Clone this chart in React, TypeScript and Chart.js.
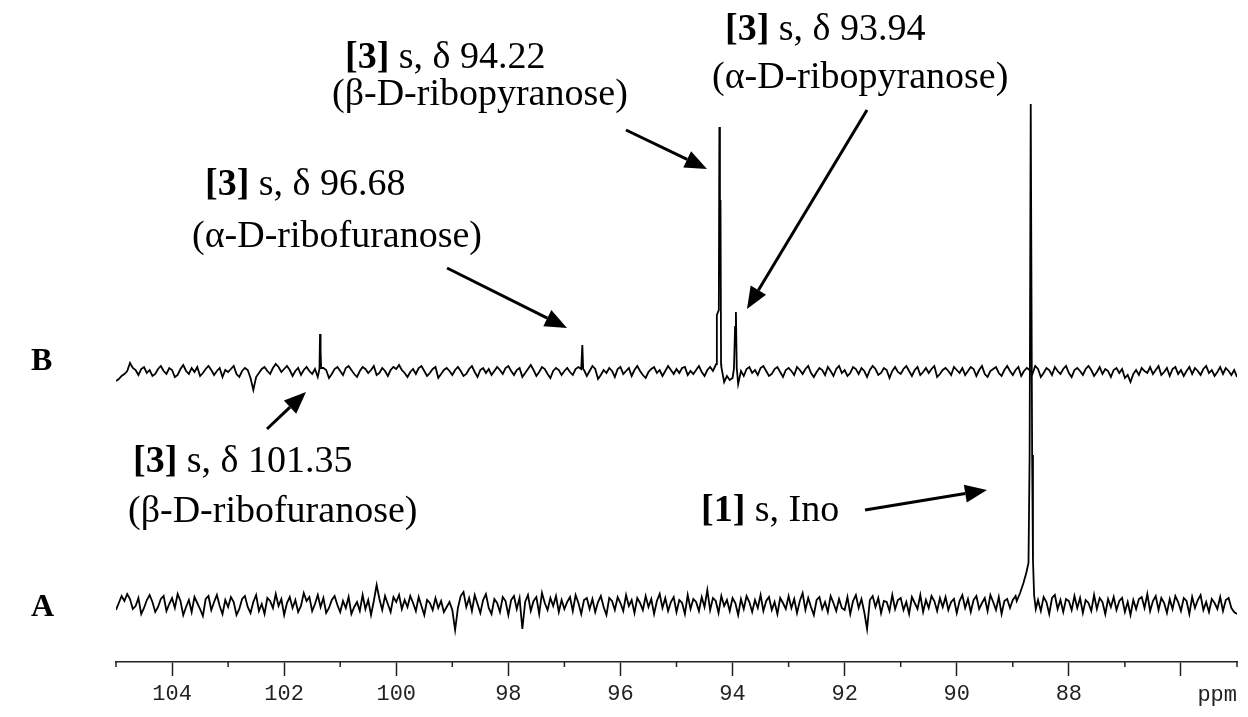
import React, { useEffect, useRef } from "react";
import { Chart, registerables } from "chart.js";

Chart.register(...registerables);

// ---- axis ----
const PPM_START = 105;
const PPM_STEP = 0.05;
const AXIS_MIN = 85;
const AXIS_MAX = 105;
const MAJOR_TICKS = [86, 88, 90, 92, 94, 96, 98, 100, 102, 104];
const TICK_LABELS = ["", "88", "90", "92", "94", "96", "98", "100", "102", "104"];
const MINOR_TICKS = [85, 87, 89, 91, 93, 95, 97, 99, 101, 103, 105];
const UNIT_LABEL = "ppm";

// ---- trace B (baseline noise, sampled every 0.05 ppm from 105 ppm) ----
const NOISE_B = [
  -9, -7, -4, -2, 1, 9, 4, 2, -3, 3, 5, -1, 2, -4, -2, 3, 6, 1, -2, 4,
  2, -5, -3, 3, 7, 1, -2, 4, 0, 5, -4, -1, 3, 6, 2, -3, 1, 4, -5, 2,
  0, 3, 6, -2, -5, 1, 4, 2, -6, -18, -5, -1, 3, 5, 1, -2, 4, 8, 5, 0,
  3, 6, 2, -4, 1, 4, -3, 2, 5, 1, -2, 3, -5, 0, 4, 2, -6, -2, 3, 5,
  1, -3, 4, 6, 2, -2, -5, 1, 5, 3, -1, 2, 6, -3, -1, 4, 1, -4, 2, 5,
  3, 7, 2, -1, -5, 0, 3, -2, 4, 6, 1, -4, -1, 3, 5, -6, -2, 2, 4, 1,
  -3, 2, 5, 1, -4, -2, 3, 6, 0, -5, 2, 4, -1, 3, -3, 1, 5, 2, -2, 4,
  6, 1, -3, 2, 4, -5, -1, 3, 7, 2, -4, 0, 5, 3, -2, -6, 1, 4, 2, -3,
  1, 4, 0, -3, 3, 5, -2, 2, -4, 1, 6, 3, -7, -3, 2, -1, 4, 1, -5, 3,
  5, -2, 1, 4, -4, 2, 6, 1, -3, -6, 0, 3, 5, -1, 2, -4, 1, 6, 2, -2,
  3, -1, 4, 5, -3, 1, -2, 2, 6, 0, -4, 2, 5, 1, 7, 8, 5, -10, -4, -8,
  -6, -3, -12, 1, -4, 3, 5, -1, 2, -3, 4, 6, 1, -4, -2, 3, 5, 0, -5, 2,
  4, 1, -3, 5, 2, -2, 3, 6, -1, -5, 0, 4, 2, -3, 5, 1, -4, 3, 6, -1,
  2, -4, -1, 5, 3, -2, 4, 1, -5, 2, 6, 3, -3, -1, 4, 2, -6, 1, 5, 0,
  -2, 3, 6, 1, -4, 2, 5, -3, 0, 4, -1, 3, 6, -5, -2, 2, 4, 1, -3, 5,
  2, -1, 4, -3, 1, 5, 3, -4, 2, 6, -2, -5, 1, 3, 5, -1, -4, 2, 6, 1,
  -3, 2, 5, -4, 1, 4, 2, -2, 6, 3, -5, -1, 4, 2, -3, 5, 1, -2, 3, 6,
  -1, -5, 2, 4, 1, -3, 3, 6, 2, -4, 0, 5, -2, 3, 1, -5, 2, 4, -1, 3,
  -6, -3, -10, -2, 2, -3, 4, 1, -1, 5, -2, 2, 6, -3, 0, 4, -4, 3, 5, -2,
  2, -4, 1, 5, -2, 4, 1, -3, 3, 6, -1, 2, -4, 0, 5, -2, 4, 1, -3, 2,
  -5,
];

// ---- trace B peaks [ppm, intensity] ----
const PEAK_B_10135 = [[101.37, 3], [101.36, 38], [101.35, 22], [101.34, 4]];
const PEAK_B_9668 = [[96.70, 3], [96.68, 27], [96.665, 3]];
const PEAK_B_9422 = [[94.29, 8], [94.28, 57], [94.245, 62], [94.235, 245], [94.225, 120], [94.215, 172], [94.205, 8]];
const PEAK_B_9394 = [[93.975, 3], [93.955, 45], [93.94, 60], [93.925, 4]];

// ---- trace A (baseline noise, sampled every 0.05 ppm from 105 ppm) ----
const NOISE_A = [
  -5, 2, 9, 4, 11, 6, -4, -1, 7, -9, -3, 5, 10, 3, -7, -2, 6, 9, -6, 1,
  7, -3, 11, 4, -10, -2, 5, -7, 8, 2, -4, -11, 6, 9, -5, 3, 10, -1, -9, 5,
  -2, 8, 3, -10, -4, 6, 9, -2, -8, 3, 10, -6, 1, -9, 7, 4, -3, 11, -1, 6,
  -10, 2, 8, -3, 5, -7, -1, 12, 4, 8, -6, 1, 10, -2, 7, -8, -3, 5, 9, 0,
  -7, 4, -3, 8, -9, -2, 3, -6, 10, -4, 5, -10, 4, 20, 6, -5, 9, 1, -7, 8,
  3, 10, -4, 5, -2, 9, 2, -6, 8, -1, -10, 5, 2, -5, 7, -3, 4, -7, -2, 3,
  -5, -25, -3, 9, 13, -2, 7, -6, 10, 1, -8, 5, 11, -3, -9, 6, 2, -7, 8, 4,
  -10, 5, 9, -4, 7, -24, 3, 10, -6, 4, 8, -9, 12, 2, -5, 7, -1, 9, -7, 5,
  -4, 3, 8, -6, 10, 2, -9, 5, 7, -4, 6, -7, 3, 9, -2, -10, 7, 4, -5, 8,
  2, -6, 10, -1, 5, -8, 7, 2, -5, 9, -2, 6, -9, 4, 11, -3, 7, -6, 3, 8,
  -7, 5, 2, -9, 10, -4, 6, 3, -6, 8, -2, 15, -5, 7, 4, -8, 9, -1, 5, -6,
  7, 2, -10, 6, -4, 9, 3, -7, 5, -3, 10, -6, 4, 8, -5, 3, -9, 7, 2, -4,
  9, -3, 6, -8, 4, 12, -5, 7, -2, -10, 5, 8, -4, 3, -7, 9, 2, -6, 6, -3,
  -5, 8, -9, 4, 10, -3, 6, -7, -24, 5, 9, -2, 7, -8, 4, 3, -6, 10, -4, 5,
  7, -5, 3, -9, 8, 2, -4, 10, -7, 5, -3, 9, 4, -6, 7, -2, 8, -5, 3, 6,
  -8, 4, 10, -3, 6, -7, 5, 9, -4, 2, 7, -6, 10, 3, -5, 8, -9, 4, 6, -3,
  5, 9, 10, 14, 20, 30, 12, 6, -6, 5, -6, 8, 3, -9, 7, 10, -4, 5, -7, 6,
  4, -5, 9, -3, 7, -8, 5, 2, -6, 10, -4, 7, 3, -9, 6, -2, 8, -5, 4, 7,
  -7, 3, -10, 5, -4, 6, 8, -3, 11, -6, 4, 9, -5, 7, 2, -8, 6, -4, 9, 3,
  -6, 7, 4, -9, 8, -3, 5, 10, -5, 3, -7, 6, 2, -4, 8, -6, 5, 7, -3, -7,
  -9,
];

// ---- trace A peak [ppm, intensity] ----
const PEAK_A_8868 = [
  [88.93, 4], [88.87, 12], [88.81, 22], [88.76, 32], [88.72, 42], [88.70, 150],
  [88.68, 501], [88.655, 150], [88.64, 45], [88.62, 10], [88.59, -4],
];

// stacking offsets of the two spectra (intensity units)
const OFFSET_A = 57;
const OFFSET_B = 290;
const Y_MAX = 662;

function buildTrace(noise: number[], peaks: number[][][], offset: number) {
  const pts: { x: number; y: number }[] = [];
  noise.forEach((v, i) => {
    const x = +(PPM_START - i * PPM_STEP).toFixed(3);
    const inside = peaks.some((p) => {
      const xs = p.map((q) => q[0]);
      return x >= Math.min(...xs) - 1e-6 && x <= Math.max(...xs) + 1e-6;
    });
    if (!inside) pts.push({ x, y: v + offset });
  });
  peaks.forEach((p) => p.forEach(([x, v]) => pts.push({ x, y: v + offset })));
  pts.sort((a, b) => b.x - a.x);
  return pts;
}

type Part = [string, boolean];
const TEXTS: { parts: Part[]; x: number; y: number }[] = [
  { parts: [["[3]", true], [" s, δ 94.22", false]], x: 345, y: 68 },
  { parts: [["(β-D-ribopyranose)", false]], x: 332, y: 105 },
  { parts: [["[3]", true], [" s, δ 93.94", false]], x: 725, y: 40 },
  { parts: [["(α-D-ribopyranose)", false]], x: 712, y: 88 },
  { parts: [["[3]", true], [" s, δ 96.68", false]], x: 205, y: 195 },
  { parts: [["(α-D-ribofuranose)", false]], x: 192, y: 247 },
  { parts: [["[3]", true], [" s, δ 101.35", false]], x: 133, y: 472 },
  { parts: [["(β-D-ribofuranose)", false]], x: 128, y: 522 },
  { parts: [["[1]", true], [" s, Ino", false]], x: 701, y: 521 },
];

const ARROWS = [
  [626, 130, 707, 169],
  [867, 110, 747, 309],
  [447, 268, 567, 328],
  [267, 429, 306, 392],
  [865, 510, 987, 490],
];

const TRACE_LABELS = [
  { t: "B", x: 31, y: 370 },
  { t: "A", x: 31, y: 616 },
];

const annotationPlugin = {
  id: "nmrAnnotations",
  afterDraw(chart: any) {
    const ctx: CanvasRenderingContext2D = chart.ctx;
    const xs = chart.scales.x;
    const bottom = chart.chartArea.bottom;
    ctx.save();
    // minor ticks
    ctx.strokeStyle = "#222";
    ctx.lineWidth = 1.5;
    MINOR_TICKS.forEach((v) => {
      const px = xs.getPixelForValue(v);
      ctx.beginPath();
      ctx.moveTo(px, bottom);
      ctx.lineTo(px, bottom + 5);
      ctx.stroke();
    });
    // unit label
    ctx.fillStyle = "#222";
    ctx.font = '22px "Liberation Mono"';
    ctx.textAlign = "right";
    ctx.textBaseline = "middle";
    ctx.fillText(UNIT_LABEL, xs.right, 695);

    // texts
    ctx.fillStyle = "#000";
    ctx.textAlign = "left";
    ctx.textBaseline = "alphabetic";
    TEXTS.forEach(({ parts, x, y }) => {
      let cx = x;
      parts.forEach(([t, bold]) => {
        ctx.font = `${bold ? "bold " : ""}38px "Liberation Serif"`;
        ctx.fillText(t, cx, y);
        cx += ctx.measureText(t).width;
      });
    });
    ctx.font = 'bold 32px "Liberation Serif"';
    TRACE_LABELS.forEach(({ t, x, y }) => ctx.fillText(t, x, y));

    // arrows
    ARROWS.forEach(([x1, y1, x2, y2]) => {
      const ang = Math.atan2(y2 - y1, x2 - x1);
      const hl = 22;
      const hw = 9;
      const bx = x2 - hl * Math.cos(ang);
      const by = y2 - hl * Math.sin(ang);
      ctx.strokeStyle = "#000";
      ctx.lineWidth = 3;
      ctx.beginPath();
      ctx.moveTo(x1, y1);
      ctx.lineTo(bx, by);
      ctx.stroke();
      ctx.beginPath();
      ctx.moveTo(x2, y2);
      ctx.lineTo(bx + hw * Math.sin(ang), by - hw * Math.cos(ang));
      ctx.lineTo(bx - hw * Math.sin(ang), by + hw * Math.cos(ang));
      ctx.closePath();
      ctx.fillStyle = "#000";
      ctx.fill();
    });
    ctx.restore();
  },
};

export default function App() {
  const ref = useRef<HTMLCanvasElement | null>(null);
  useEffect(() => {
    if (!ref.current) return;
    const traceB = buildTrace(NOISE_B, [PEAK_B_10135, PEAK_B_9668, PEAK_B_9422, PEAK_B_9394], OFFSET_B);
    const traceA = buildTrace(NOISE_A, [PEAK_A_8868], OFFSET_A);
    const labelFor: Record<number, string> = {};
    MAJOR_TICKS.forEach((v, i) => (labelFor[v] = TICK_LABELS[i]));
    const chart = new Chart(ref.current, {
      type: "line",
      data: {
        datasets: [
          { label: "B", data: traceB, borderColor: "#000", borderWidth: 1.8, pointRadius: 0, tension: 0, fill: false },
          { label: "A", data: traceA, borderColor: "#000", borderWidth: 1.8, pointRadius: 0, tension: 0, fill: false },
        ],
      },
      options: {
        responsive: false,
        animation: false,
        events: [],
        layout: { padding: { left: 116, right: 11, top: 0, bottom: 0 } },
        plugins: { legend: { display: false }, tooltip: { enabled: false } },
        scales: {
          x: {
            type: "linear",
            reverse: true,
            min: AXIS_MIN,
            max: AXIS_MAX,
            afterBuildTicks: (scale: any) => {
              scale.ticks = MAJOR_TICKS.map((v) => ({ value: v }));
            },
            afterFit: (scale: any) => {
              scale.height = 55;
            },
            ticks: {
              autoSkip: false,
              maxRotation: 0,
              padding: 5,
              color: "#222",
              font: { family: "Liberation Mono", size: 22 },
              callback: (v: any) => labelFor[v as number] ?? "",
            },
            grid: { drawOnChartArea: false, drawTicks: true, tickLength: 14, tickColor: "#222", tickWidth: 1.5 },
            border: { display: true, color: "#222", width: 1.5 },
          },
          y: { display: false, min: 0, max: Y_MAX },
        },
      },
      plugins: [annotationPlugin],
    });
    return () => chart.destroy();
  }, []);
  return (
    <div style={{ position: "fixed", left: 0, top: 0, width: 1248, height: 717, background: "#fff" }}>
      <canvas ref={ref} width={1248} height={717} style={{ display: "block" }} />
    </div>
  );
}
